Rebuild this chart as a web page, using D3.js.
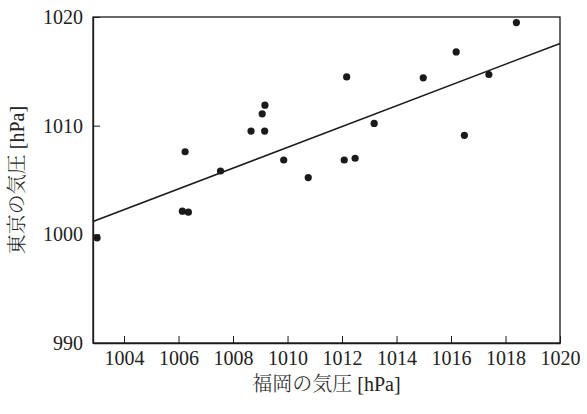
<!DOCTYPE html>
<html>
<head>
<meta charset="utf-8">
<script src="https://cdn.jsdelivr.net/npm/d3@7"></script>
</head>
<body style="margin:0; background:#fff">
<div id="chart"></div>
<script>
// pressure readings (hPa)
var fukuoka = [1003.01, 1006.14, 1006.36, 1006.24, 1007.54, 1008.66, 1009.16, 1009.07, 1009.17, 1009.86,
               1010.76, 1012.08, 1012.48, 1013.18, 1012.17, 1014.98, 1016.19, 1016.49, 1017.39, 1018.40];
var tokyo   = [999.68, 1002.13, 1002.04, 1007.60, 1005.83, 1009.50, 1009.50, 1011.09, 1011.89, 1006.84,
               1005.22, 1006.84, 1007.00, 1010.21, 1014.49, 1014.40, 1016.79, 1009.11, 1014.71, 1019.49];
// fitted line as drawn in the reference
var fitSlope = 0.956, fitIntercept = 42.446;
var xTicks = [1004, 1006, 1008, 1010, 1012, 1014, 1016, 1018, 1020];
var yTicks = [990, 1000, 1010, 1020];
var xDomain = [1002.86, 1020];
var yDomain = [990, 1020];
var xLabel = ["福岡の気圧", " [hPa]"];
var yLabel = ["東京の気圧", " [hPa]"];

var NUM_FONT = "Liberation Serif";
var JP_FONT = "Noto Serif CJK JP";
var ink = "#1a1a1a";

var width = 587, height = 414;
var margin = {left: 93, right: 27, top: 17, bottom: 71};

var svg = d3.select("#chart").append("svg")
    .attr("width", width)
    .attr("height", height)
    .attr("font-family", NUM_FONT);

var x = d3.scaleLinear().domain(xDomain).range([margin.left, width - margin.right]);
var y = d3.scaleLinear().domain(yDomain).range([height - margin.bottom, margin.top]);

var pts = fukuoka.map(function(v, i) { return {x: v, y: tokyo[i]}; });

svg.append("line")
    .attr("x1", x(xDomain[0])).attr("y1", y(fitIntercept + fitSlope * xDomain[0]))
    .attr("x2", x(xDomain[1])).attr("y2", y(fitIntercept + fitSlope * xDomain[1]))
    .attr("stroke", ink).attr("stroke-width", 1.5);

svg.selectAll(".pt").data(pts).enter().append("circle")
    .attr("class", "pt")
    .attr("cx", function(d) { return x(d.x); })
    .attr("cy", function(d) { return y(d.y); })
    .attr("r", 3.6)
    .attr("fill", ink);

// frame: full axes on left/bottom, plain lines top/right
svg.append("rect")
    .attr("x", margin.left).attr("y", margin.top)
    .attr("width", width - margin.left - margin.right)
    .attr("height", height - margin.top - margin.bottom)
    .attr("fill", "none").attr("stroke", ink).attr("stroke-width", 1.3);

var xAxis = svg.append("g")
    .attr("transform", "translate(0," + (height - margin.bottom) + ")")
    .call(d3.axisBottom(x).tickValues(xTicks).tickFormat(d3.format("d")).tickSizeInner(-7).tickSizeOuter(0).tickPadding(16));
var yAxis = svg.append("g")
    .attr("transform", "translate(" + margin.left + ",0)")
    .call(d3.axisLeft(y).tickValues(yTicks).tickFormat(d3.format("d")).tickSizeInner(-7).tickSizeOuter(0).tickPadding(10));

[xAxis, yAxis].forEach(function(g) {
  g.attr("font-family", NUM_FONT).attr("font-size", 20);
  g.select(".domain").attr("stroke", ink).attr("stroke-width", 1.3);
  g.selectAll(".tick line").attr("stroke", ink).attr("stroke-width", 1);
  g.selectAll(".tick text")
    .attr("font-family", NUM_FONT)
    .style("font-family", NUM_FONT)
    .attr("fill", "#222");
});
xAxis.selectAll(".tick text").attr("dy", "0.3em");

function label(t, parts) {
  t.attr("text-anchor", "middle").attr("font-size", 20).attr("fill", "#222");
  t.append("tspan").style("font-family", JP_FONT).style("font-weight", 300).text(parts[0]);
  t.append("tspan").style("font-family", NUM_FONT).text(parts[1]);
}

label(svg.append("text")
    .attr("x", (margin.left + width - margin.right) / 2)
    .attr("y", 391), xLabel);

label(svg.append("text")
    .attr("transform", "translate(24," + ((margin.top + height - margin.bottom) / 2) + ") rotate(-90)"), yLabel);
</script>
</body>
</html>
